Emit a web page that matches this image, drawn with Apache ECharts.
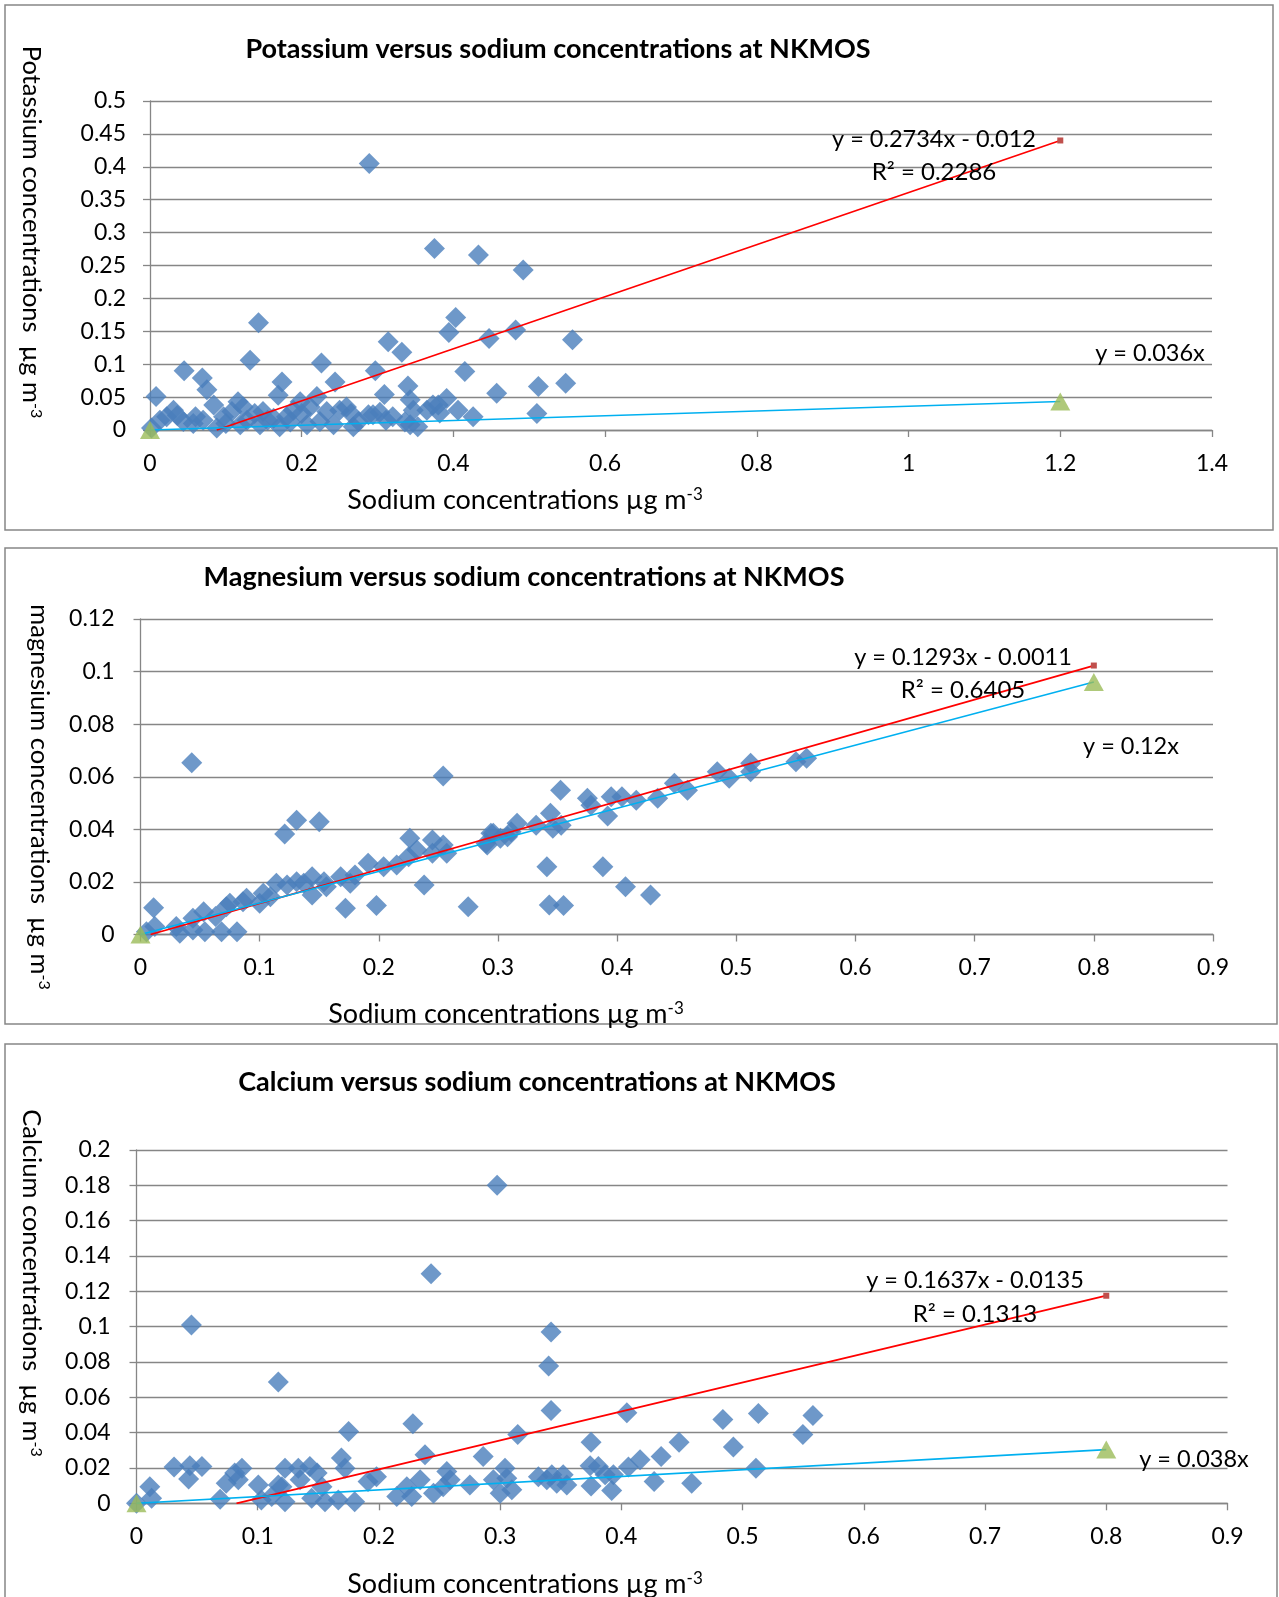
<!DOCTYPE html>
<html>
<head>
<meta charset="utf-8">
<script src="https://cdn.jsdelivr.net/npm/echarts@6/dist/echarts.min.js"></script>
<style>
  html, body { margin: 0; padding: 0; background: #fff; }
  #chart { width: 1279px; height: 1597px; }
</style>
</head>
<body>
<div id="chart"></div>
<script>
// ---- data ----
// potassium vs sodium
const naK = [0.289, 0.375, 0.433, 0.492, 0.403, 0.394, 0.314, 0.332, 0.297, 0.415, 0.447, 0.482, 0.557,
  0.309, 0.340, 0.457, 0.512, 0.548, 0.510, 0.391, 0.373, 0.406, 0.426, 0.343, 0.347, 0.294, 0.343,
  0.353, 0.382, 0.303, 0.311, 0.380, 0.143, 0.132, 0.045, 0.069, 0.075, 0.008, 0.226, 0.244, 0.174,
  0.169, 0.084, 0.031, 0.116, 0.198, 0.220, 0.013, 0.044, 0.057, 0.070, 0.097, 0.108, 0.123, 0.138,
  0.149, 0.163, 0.180, 0.189, 0.211, 0.233, 0.250, 0.259, 0.275, 0.224, 0.207, 0.171, 0.145, 0.119,
  0.088, 0.002, 0.268, 0.242, 0.288, 0.022, 0.036, 0.060, 0.100, 0.128, 0.155, 0.185, 0.200, 0.265,
  0.320, 0.336, 0.365];
const potassium = [0.405, 0.276, 0.266, 0.243, 0.171, 0.148, 0.134, 0.118, 0.090, 0.089, 0.139, 0.152, 0.137,
  0.054, 0.067, 0.056, 0.066, 0.071, 0.025, 0.048, 0.038, 0.030, 0.020, 0.046, 0.030, 0.023, 0.008,
  0.005, 0.026, 0.027, 0.015, 0.038, 0.163, 0.106, 0.090, 0.079, 0.061, 0.051, 0.102, 0.073, 0.073,
  0.053, 0.038, 0.030, 0.043, 0.043, 0.051, 0.015, 0.013, 0.010, 0.015, 0.020, 0.028, 0.035, 0.025,
  0.028, 0.018, 0.020, 0.030, 0.035, 0.028, 0.030, 0.035, 0.013, 0.013, 0.008, 0.005, 0.008, 0.008,
  0.003, 0.003, 0.005, 0.008, 0.023, 0.020, 0.022, 0.020, 0.010, 0.015, 0.015, 0.012, 0.025, 0.025,
  0.020, 0.012, 0.030];
const kFitLine = [[0.088, 0], [1.2, 0.44]];
const kRefLine = [[0, 0], [1.2, 0.0432]];

// magnesium vs sodium
const naMg = [0.043, 0.254, 0.131, 0.150, 0.121, 0.011, 0.172, 0.198, 0.275, 0.238, 0.191, 0.226, 0.245,
  0.254, 0.257, 0.245, 0.232, 0.225, 0.215, 0.291, 0.294, 0.005, 0.012, 0.030, 0.033, 0.044, 0.054,
  0.068, 0.081, 0.044, 0.053, 0.063, 0.072, 0.075, 0.086, 0.089, 0.100, 0.103, 0.109, 0.114, 0.123,
  0.131, 0.137, 0.144, 0.144, 0.154, 0.156, 0.168, 0.176, 0.180, 0.204, 0.3525, 0.375, 0.378, 0.395,
  0.404, 0.416, 0.392, 0.434, 0.448, 0.459, 0.484, 0.494, 0.512, 0.512, 0.550, 0.559, 0.341, 0.388,
  0.407, 0.428, 0.343, 0.355, 0.290, 0.296, 0.302, 0.311, 0.316, 0.332, 0.344, 0.346, 0.353, 0.308];
const magnesium = [0.0653, 0.0603, 0.0435, 0.0429, 0.0382, 0.0102, 0.0100, 0.0110, 0.0106, 0.0188, 0.0271,
  0.0366, 0.0359, 0.0340, 0.0309, 0.0309, 0.0321, 0.0296, 0.0264, 0.0340, 0.0385, 0.001, 0.003, 0.003,
  0.0005, 0.0017, 0.001, 0.001, 0.001, 0.0062, 0.0087, 0.0068, 0.0106, 0.0119, 0.0125, 0.0138, 0.0119,
  0.0157, 0.0144, 0.0195, 0.0188, 0.0201, 0.0195, 0.0220, 0.0150, 0.0201, 0.0182, 0.0220, 0.0195,
  0.0226, 0.0258, 0.0549, 0.0518, 0.0492, 0.0524, 0.0524, 0.0511, 0.0451, 0.0518, 0.0575, 0.0549,
  0.0619, 0.0594, 0.0651, 0.0619, 0.0657, 0.0670, 0.0258, 0.0258, 0.0182, 0.0150, 0.0112, 0.0110,
  0.0347, 0.0385, 0.0366, 0.0391, 0.0423, 0.0416, 0.0461, 0.0404, 0.0416, 0.0372];
const mgFitLine = [[0.0085, 0], [0.8, 0.1023]];
const mgRefLine = [[0, 0], [0.8, 0.096]];

// calcium vs sodium
const naCa = [0.2975, 0.243, 0.0453, 0.342, 0.340, 0.342, 0.117, 0.175, 0.228, 0.238, 0.031, 0.044, 0.054,
  0.043, 0.011, 0.0125, 0.0, 0.069, 0.074, 0.081, 0.087, 0.084, 0.1005, 0.103, 0.1115, 0.117, 0.1225,
  0.120, 0.1225, 0.1335, 0.135, 0.143, 0.149, 0.153, 0.1445, 0.1555, 0.1665, 0.169, 0.172, 0.180,
  0.191, 0.198, 0.2147, 0.223, 0.227, 0.234, 0.245, 0.253, 0.256, 0.2587, 0.275, 0.286, 0.4045, 0.513,
  0.558, 0.4837, 0.5497, 0.4924, 0.4476, 0.375, 0.3145, 0.4328, 0.4154, 0.4058, 0.3934, 0.381, 0.3742,
  0.3866, 0.392, 0.375, 0.511, 0.427, 0.458, 0.304, 0.2944, 0.300, 0.3096, 0.3055, 0.3315, 0.3426,
  0.352, 0.3467, 0.355, 0.3385];
const calcium = [0.180, 0.130, 0.101, 0.097, 0.0777, 0.0525, 0.0686, 0.0407, 0.0451, 0.0275, 0.0205, 0.0212,
  0.0208, 0.0137, 0.0094, 0.0028, 0.0, 0.0023, 0.0114, 0.0171, 0.0199, 0.0133, 0.0104, 0.0019, 0.0038,
  0.0104, 0.0199, 0.0094, 0.0009, 0.0199, 0.0133, 0.0208, 0.0171, 0.0094, 0.0028, 0.0009, 0.0019,
  0.0256, 0.0199, 0.0009, 0.0123, 0.0151, 0.0038, 0.0094, 0.0038, 0.0133, 0.0057, 0.0094, 0.018,
  0.0133, 0.0104, 0.0265, 0.0512, 0.0508, 0.0497, 0.0474, 0.0389, 0.0319, 0.0345, 0.0345, 0.0389,
  0.0265, 0.0246, 0.0205, 0.0161, 0.0208, 0.0212, 0.0161, 0.0072, 0.0098, 0.0199, 0.0123, 0.0114,
  0.0199, 0.0133, 0.0057, 0.0076, 0.0142, 0.0151, 0.0161, 0.0161, 0.0114, 0.0104, 0.0133];
const caFitLine = [[0.0825, 0], [0.8, 0.1175]];
const caRefLine = [[0, 0], [0.8, 0.0304]];

const titles = [
  'Potassium versus sodium concentrations at NKMOS',
  'Magnesium versus sodium concentrations at NKMOS',
  'Calcium versus sodium concentrations at NKMOS'
];
const yNames = ['Potassium concentrations  µg m', 'magnesium concentrations  µg m', 'Calcium concentrations  µg m'];
const xName = 'Sodium concentrations µg m';
const fitLabels = [
  ['y = 0.2734x - 0.012', 'R² = 0.2286', 'y = 0.036x'],
  ['y = 0.1293x - 0.0011', 'R² = 0.6405', 'y = 0.12x'],
  ['y = 0.1637x - 0.0135', 'R² = 0.1313', 'y = 0.038x']
];

// ---- chart ----
const FONT = 'Lato';
const GRAY = '#868686';
const chart = echarts.init(document.getElementById('chart'));

const zip = (xs, ys) => xs.map((x, i) => [x, ys[i]]);
const fmt = v => String(+v.toFixed(3));

function xAxis(gi, max, interval) {
  return {
    type: 'value', gridIndex: gi, min: 0, max: max, interval: interval,
    axisLine: { show: true, onZero: false, lineStyle: { color: GRAY, width: 1.3 } },
    axisTick: { show: true, length: 7, lineStyle: { color: GRAY, width: 1.3 } },
    axisLabel: { margin: 22, color: '#000', fontFamily: FONT, fontSize: 23, formatter: fmt },
    splitLine: { show: false }
  };
}
function yAxis(gi, max, interval, margin) {
  return {
    type: 'value', gridIndex: gi, min: 0, max: max, interval: interval,
    axisLine: { show: true, onZero: false, lineStyle: { color: GRAY, width: 1.3 } },
    axisTick: { show: true, length: 7, lineStyle: { color: GRAY, width: 1.3 } },
    axisLabel: { margin: margin, color: '#000', fontFamily: FONT, fontSize: 23, formatter: fmt },
    splitLine: { show: true, lineStyle: { color: GRAY, width: 1.3 } }
  };
}
function seriesFor(gi, xs, ys, fit, ref) {
  return [
    {
      type: 'scatter', xAxisIndex: gi, yAxisIndex: gi, symbol: 'diamond', symbolSize: 21,
      itemStyle: { color: '#4A7EBB' }, data: zip(xs, ys), z: 2
    },
    {
      type: 'line', xAxisIndex: gi, yAxisIndex: gi, symbol: 'rect', symbolSize: 6,
      itemStyle: { color: '#C0504D' }, lineStyle: { color: '#FF0000', width: 1.8 },
      data: [{ value: fit[0], symbol: 'none' }, { value: fit[1] }], z: 3
    },
    {
      type: 'line', xAxisIndex: gi, yAxisIndex: gi, symbol: 'none',
      lineStyle: { color: '#00B0F0', width: 1.6 }, data: ref, z: 3
    },
    {
      type: 'scatter', xAxisIndex: gi, yAxisIndex: gi, symbol: 'triangle', symbolSize: [20, 18],
      itemStyle: { color: '#9BBB59' }, data: ref, z: 4
    }
  ];
}

function text(x, y, str, size, bold) {
  return {
    type: 'text', x: x, y: y, z: 10,
    style: {
      text: str, fill: '#000', align: 'center', verticalAlign: 'middle',
      font: (bold ? 'bold ' : '') + size + 'px ' + FONT
    }
  };
}
function supText(x, y, base, size, rot) {
  return {
    type: 'text', x: x, y: y, rotation: rot || 0, z: 10,
    style: {
      text: '{n|' + base + '}{s|-3}', align: 'center', verticalAlign: 'middle',
      rich: {
        n: { fontFamily: FONT, fontSize: size, fill: '#000', verticalAlign: 'bottom' },
        s: { fontFamily: FONT, fontSize: Math.round(size * 0.62), fill: '#000', verticalAlign: 'top' }
      }
    }
  };
}
function box(x, y, w, h) {
  return { type: 'rect', shape: { x: x, y: y, width: w, height: h }, style: { fill: null, stroke: GRAY, lineWidth: 1.5 }, z: 0 };
}

chart.setOption({
  animation: false,
  backgroundColor: '#fff',
  grid: [
    { left: 150, top: 101, width: 1062, height: 329 },
    { left: 140.5, top: 619, width: 1072.5, height: 315.5 },
    { left: 136.5, top: 1150, width: 1091, height: 353.3 }
  ],
  xAxis: [xAxis(0, 1.4, 0.2), xAxis(1, 0.9, 0.1), xAxis(2, 0.9, 0.1)],
  yAxis: [yAxis(0, 0.5, 0.05, 24), yAxis(1, 0.12, 0.02, 26), yAxis(2, 0.2, 0.02, 26)],
  series: [].concat(
    seriesFor(0, naK, potassium, kFitLine, kRefLine),
    seriesFor(1, naMg, magnesium, mgFitLine, mgRefLine),
    seriesFor(2, naCa, calcium, caFitLine, caRefLine)
  ),
  graphic: [
    box(5, 5, 1268, 525),
    box(5, 548, 1272, 476),
    box(5, 1044, 1272, 600),
    text(558, 49, titles[0], 27, true),
    text(524, 577, titles[1], 27, true),
    text(537, 1082, titles[2], 27, true),
    supText(525, 500, xName, 27),
    supText(506, 1014, xName, 27),
    supText(525, 1584, xName, 27),
    supText(31, 232, yNames[0], 25.5, -Math.PI / 2),
    supText(39, 797, yNames[1], 25.5, -Math.PI / 2),
    supText(31, 1283, yNames[2], 25.5, -Math.PI / 2),
    text(934, 139, fitLabels[0][0], 23.5), text(934, 172, fitLabels[0][1], 24), text(1150, 353, fitLabels[0][2], 23.5),
    text(963, 657, fitLabels[1][0], 23.5), text(963, 690, fitLabels[1][1], 24), text(1131, 746, fitLabels[1][2], 23.5),
    text(975, 1280, fitLabels[2][0], 23.5), text(975, 1314, fitLabels[2][1], 24), text(1194, 1459, fitLabels[2][2], 23.5)
  ]
});
</script>
</body>
</html>
